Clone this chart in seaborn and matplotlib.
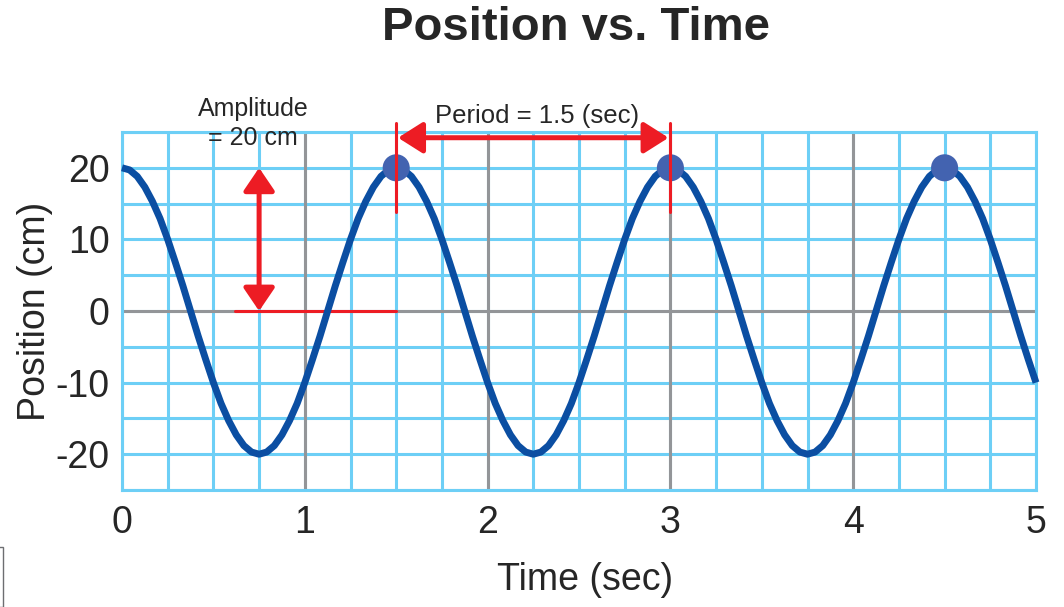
import numpy as np
import matplotlib
matplotlib.use("Agg")
import matplotlib.pyplot as plt
import seaborn as sns
from matplotlib.patches import FancyArrowPatch, ArrowStyle, Rectangle
from matplotlib.ticker import MultipleLocator

# --------------------------------------
# DATA
# --------------------------------------

time_sec = np.linspace(0, 5, 121)   # sampled every 1/24 s

position_cm = [
    # 0 - 1.5 s
    20.0, 19.7, 18.8, 17.3, 15.3, 12.9, 10.0, 6.8, 3.5, 0.0, -3.5, -6.8,
    -10.0, -12.9, -15.3, -17.3, -18.8, -19.7, -20.0, -19.7, -18.8, -17.3, -15.3, -12.9,
    -10.0, -6.8, -3.5, 0.0, 3.5, 6.8, 10.0, 12.9, 15.3, 17.3, 18.8, 19.7,
    # 1.5 - 3 s
    20.0, 19.7, 18.8, 17.3, 15.3, 12.9, 10.0, 6.8, 3.5, 0.0, -3.5, -6.8,
    -10.0, -12.9, -15.3, -17.3, -18.8, -19.7, -20.0, -19.7, -18.8, -17.3, -15.3, -12.9,
    -10.0, -6.8, -3.5, 0.0, 3.5, 6.8, 10.0, 12.9, 15.3, 17.3, 18.8, 19.7,
    # 3 - 4.5 s
    20.0, 19.7, 18.8, 17.3, 15.3, 12.9, 10.0, 6.8, 3.5, 0.0, -3.5, -6.8,
    -10.0, -12.9, -15.3, -17.3, -18.8, -19.7, -20.0, -19.7, -18.8, -17.3, -15.3, -12.9,
    -10.0, -6.8, -3.5, 0.0, 3.5, 6.8, 10.0, 12.9, 15.3, 17.3, 18.8, 19.7,
    # 4.5 - 5 s
    20.0, 19.7, 18.8, 17.3, 15.3, 12.9, 10.0, 6.8, 3.5, 0.0, -3.5, -6.8,
    -10.0,
]

peak_times = [1.5, 3.0, 4.5]
peak_positions = [20, 20, 20]

amplitude = 20
amplitude_time = 0.75
period_start = 1.5
period_end = 3.0

x_ticks = [0, 1, 2, 3, 4, 5]
y_ticks = [-20, -10, 0, 10, 20]

# --------------------------------------
# STYLE
# --------------------------------------

sns.set_style("white")
plt.rcParams["font.family"] = ["Liberation Sans", "DejaVu Sans"]

grid_blue = "#6dcff6"
grid_gray = "#939598"
curve_blue = "#0b4ea2"
dot_blue = "#4363b0"
red = "#ed1c24"

fig = plt.figure(figsize=(10.64, 6.07), dpi=100)
ax = fig.add_axes([122 / 1064, 1 - 490 / 607, 914 / 1064, 358 / 607])

# --------------------------------------
# GRID
# --------------------------------------

ax.set_xlim(0, 5)
ax.set_ylim(-25, 25)
ax.xaxis.set_minor_locator(MultipleLocator(0.25))
ax.yaxis.set_minor_locator(MultipleLocator(5))
ax.set_axisbelow(True)
ax.grid(which="both", color=grid_blue, linewidth=2.2)

for t in x_ticks[1:-1]:
    ax.axvline(t, color=grid_gray, linewidth=2.2, zorder=1)
ax.axhline(0, color=grid_gray, linewidth=2.2, zorder=1)

for s in ax.spines.values():
    s.set_color(grid_blue)
    s.set_linewidth(2.2)

# --------------------------------------
# CURVE + PEAKS
# --------------------------------------

ax.plot([0.62, period_start], [0, 0], color=red, linewidth=2.2, zorder=2)

sns.lineplot(x=time_sec, y=position_cm, ax=ax, color=curve_blue,
             linewidth=5, zorder=3, solid_joinstyle="round",
             solid_capstyle="butt", clip_on=False)

sns.scatterplot(x=peak_times, y=peak_positions, ax=ax, color=dot_blue,
                s=380, edgecolor="none", zorder=4)

# --------------------------------------
# ANNOTATIONS
# --------------------------------------

amp_arrow = FancyArrowPatch(
    (amplitude_time, 0), (amplitude_time, amplitude),
    arrowstyle=ArrowStyle("<|-|>", head_length=14, head_width=9.5),
    mutation_scale=1, linewidth=3.6, color=red,
    shrinkA=0, shrinkB=0, zorder=5,
)
ax.add_patch(amp_arrow)

for t in [period_start, period_end]:
    ax.plot([t, t], [13.8, 26.3], color=red, linewidth=2.2,
            zorder=6, clip_on=False)

per_arrow = FancyArrowPatch(
    (period_start + 0.01, 24.2), (period_end - 0.01, 24.2),
    arrowstyle=ArrowStyle("<|-|>", head_length=15, head_width=9.5),
    mutation_scale=1, linewidth=3.6, color=red,
    shrinkA=0, shrinkB=0, zorder=6, clip_on=False,
)
ax.add_patch(per_arrow)

ax.text(0.717, 26.2, "Amplitude\n= 20 cm", fontsize=18, ha="center",
        va="center", linespacing=1.25, zorder=7)
ax.text(2.27, 27.2, "Period = 1.5 (sec)", fontsize=18.5, ha="center",
        va="center", zorder=7)

# --------------------------------------
# TICKS + LABELS
# --------------------------------------

ax.set_xticks(x_ticks)
ax.set_yticks(y_ticks)
ax.set_xticklabels([str(v) for v in x_ticks])
ax.set_yticklabels([str(v) for v in y_ticks])
ax.tick_params(which="both", length=0, labelsize=27)
ax.tick_params(axis="y", pad=9)
ax.tick_params(axis="x", pad=11)

ax.set_xlabel("Time (sec)", fontsize=27)
ax.set_ylabel("Position (cm)", fontsize=27)
ax.xaxis.set_label_coords((585 - 122) / 914, (490 - 580) / 358)
ax.yaxis.set_label_coords((35 - 122) / 914, 0.5)
ax.xaxis.label.set_va("center")
ax.yaxis.label.set_va("center")

fig.text(576 / 1064, 1 - 28 / 607, "Position vs. Time", fontsize=34,
         fontweight="bold", ha="center", va="center")

# small leftover frame at the bottom-left corner
fig.patches.append(Rectangle((-10 / 1064, 0), 13 / 1064, 60 / 607,
                             transform=fig.transFigure, fill=False,
                             edgecolor="#6d6e71", linewidth=1))

fig.savefig("out.png", dpi=100)
